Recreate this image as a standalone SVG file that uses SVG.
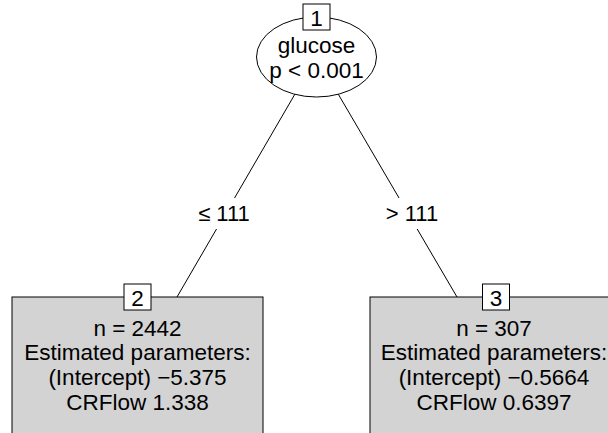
<svg xmlns="http://www.w3.org/2000/svg" width="608" height="433" viewBox="0 0 608 433">
<style>
text{font-family:"Liberation Sans",Arial,sans-serif;font-size:22.5px;fill:#000;text-anchor:middle}
text.lbl{font-size:22px}
.edge{stroke:#000;stroke-width:1;fill:none}
.lblbg{fill:#fff;stroke:none}
.idbox{fill:#fff;stroke:#000;stroke-width:1}
.term{fill:#d3d3d3;stroke:#000;stroke-width:1}
</style>
<rect width="608" height="433" fill="#fff"/>
<g id="connectors">
<line class="edge" x1="316.5" y1="57" x2="177" y2="297"/>
<line class="edge" x1="316.5" y1="57" x2="457" y2="297"/>
<rect class="lblbg" x="195" y="198" width="58" height="31"/>
<text class="lbl" x="224" y="221">≤ 111</text>
<rect class="lblbg" x="383" y="198" width="58" height="31"/>
<text class="lbl" x="412" y="221">&gt; 111</text>
</g>
<g id="node1">
<ellipse cx="316.5" cy="57" rx="60" ry="40" fill="#fff" stroke="#000" stroke-width="1"/>
<text x="316.5" y="53">glucose</text>
<text x="316.5" y="78">p &lt; 0.001</text>
<rect class="idbox" x="303" y="4" width="27" height="26"/>
<text x="316.5" y="25.5">1</text>
</g>
<g id="node2">
<rect class="term" x="12" y="297" width="251" height="160"/>
<text x="137.5" y="335.5">n = 2442</text>
<text x="137.5" y="360">Estimated parameters:</text>
<text x="137.5" y="384.5">(Intercept) −5.375</text>
<text x="137.5" y="409.5">CRFlow 1.338</text>
<rect class="idbox" x="124" y="284" width="27" height="26"/>
<text x="137.5" y="305.5">2</text>
</g>
<g id="node3">
<rect class="term" x="370" y="297" width="251" height="160"/>
<text x="494" y="335.5">n = 307</text>
<text x="494" y="360">Estimated parameters:</text>
<text x="494" y="384.5">(Intercept) −0.5664</text>
<text x="494" y="409.5">CRFlow 0.6397</text>
<rect class="idbox" x="482.5" y="284" width="27" height="26"/>
<text x="496" y="305.5">3</text>
</g>
</svg>
